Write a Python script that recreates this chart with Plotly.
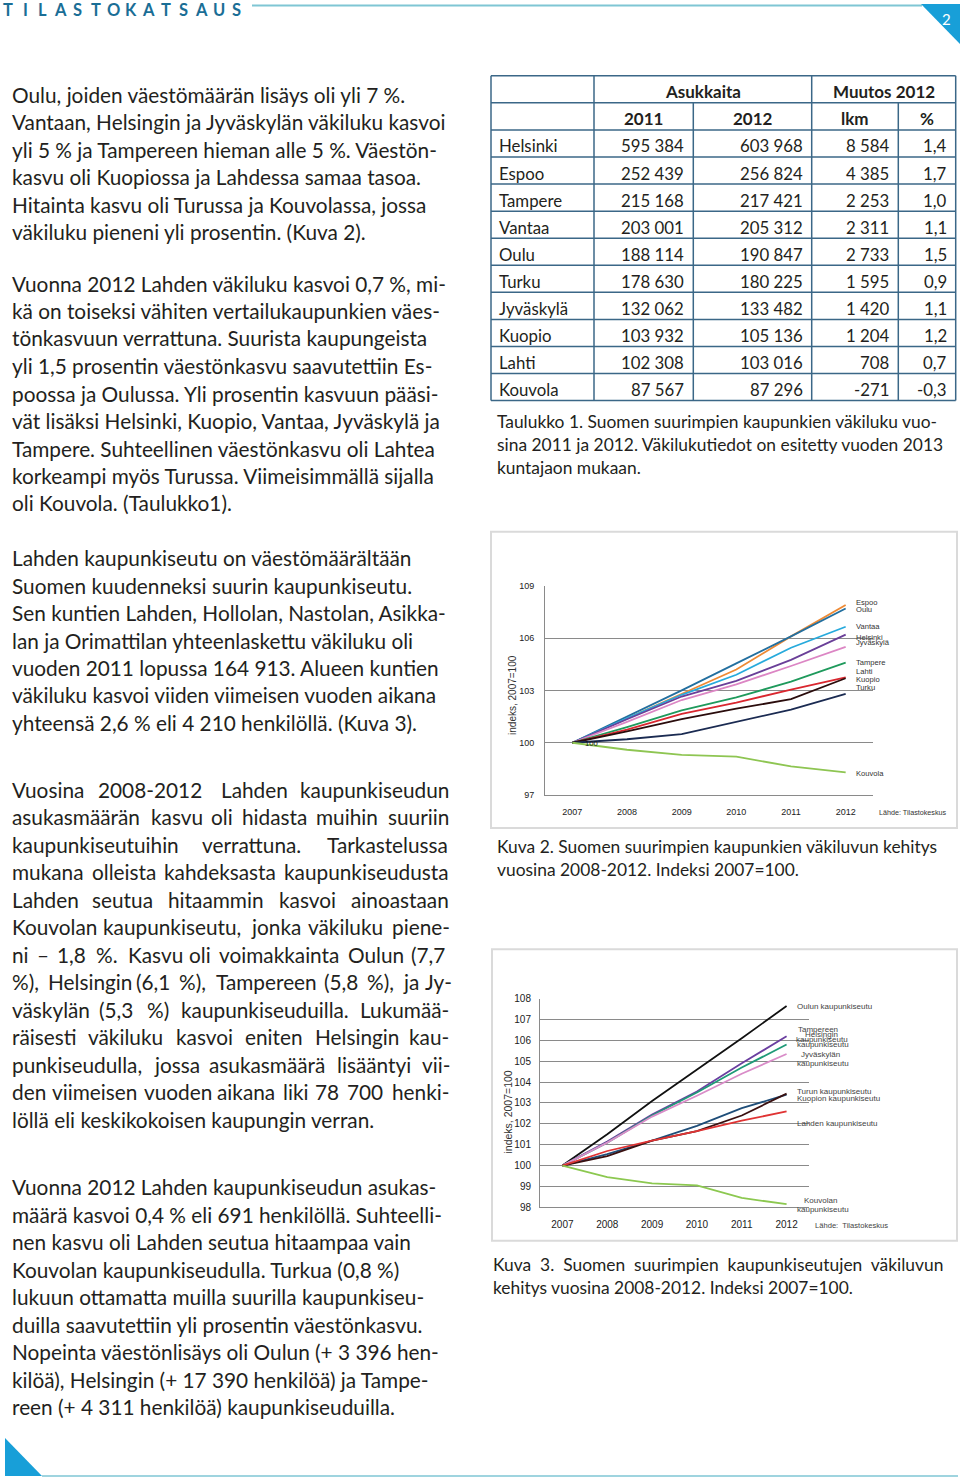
import plotly.graph_objects as go

W, H = 960, 1479

# ---------------- data ----------------
years = ["2007", "2008", "2009", "2010", "2011", "2012"]

# Kuva 2: cities, index 2007=100
city_names = ["Espoo", "Oulu", "Vantaa", "Helsinki", "Jyväskylä", "Tampere", "Lahti", "Kuopio", "Turku", "Kouvola"]
espoo = [100, 101.4, 102.8, 104.2, 106.1, 107.9]
oulu = [100, 101.5, 103.0, 104.55, 106.1, 107.7]
vantaa = [100, 101.4, 102.75, 103.9, 105.45, 106.65]
helsinki = [100, 101.35, 102.65, 103.55, 104.75, 106.2]
jyvaskyla = [100, 101.2, 102.45, 103.35, 104.4, 105.5]
tampere = [100, 100.9, 101.85, 102.6, 103.5, 104.6]
lahti = [100, 100.75, 101.65, 102.3, 103.05, 103.75]
kuopio = [100, 100.65, 101.35, 101.95, 102.5, 103.7]
turku = [100, 100.2, 100.5, 101.2, 101.9, 102.8]
kouvola = [100, 99.6, 99.3, 99.2, 98.65, 98.3]
city_values = [espoo, oulu, vantaa, helsinki, jyvaskyla, tampere, lahti, kuopio, turku, kouvola]
city_ticks = [97, 100, 103, 106, 109]

# Kuva 3: city regions, index 2007=100
region_names = ["Oulun kaupunkiseutu", "Helsingin kaupunkiseutu", "Tampereen kaupunkiseutu",
                "Jyväskylän kaupunkiseutu", "Turun kaupunkiseutu", "Kuopion kaupunkiseutu",
                "Lahden kaupunkiseutu", "Kouvolan kaupunkiseutu"]
oulu_s = [100, 101.5, 103.1, 104.6, 106.1, 107.65]
helsinki_s = [100, 101.15, 102.45, 103.55, 104.9, 106.2]
tampere_s = [100, 101.1, 102.4, 103.5, 104.7, 105.8]
jyvaskyla_s = [100, 101.1, 102.35, 103.35, 104.4, 105.35]
turku_s = [100, 100.55, 101.2, 101.9, 102.75, 103.4]
kuopio_s = [100, 100.45, 101.2, 101.65, 102.4, 103.45]
lahti_s = [100, 100.7, 101.2, 101.65, 102.15, 102.6]
kouvola_s = [100, 99.45, 99.15, 99.05, 98.45, 98.15]
region_values = [oulu_s, helsinki_s, tampere_s, jyvaskyla_s, turku_s, kuopio_s, lahti_s, kouvola_s]
region_ticks = list(range(98, 109))

# Taulukko 1
table_cities = ["Helsinki", "Espoo", "Tampere", "Vantaa", "Oulu", "Turku", "Jyväskylä", "Kuopio", "Lahti", "Kouvola"]
pop_2011 = ["595 384", "252 439", "215 168", "203 001", "188 114", "178 630", "132 062", "103 932", "102 308", "87 567"]
pop_2012 = ["603 968", "256 824", "217 421", "205 312", "190 847", "180 225", "133 482", "105 136", "103 016", "87 296"]
change_n = ["8 584", "4 385", "2 253", "2 311", "2 733", "1 595", "1 420", "1 204", "708", "-271"]
change_pct = ["1,4", "1,7", "1,0", "1,1", "1,5", "0,9", "1,1", "1,2", "0,7", "-0,3"]

# ---------------- styles ----------------
city_colors = ["#ee8a35", "#236f9f", "#27aadc", "#6a3f98", "#dc86c4", "#1f9a5c",
               "#d9272f", "#2a0c0c", "#1b2b52", "#8ec552"]
region_colors = ["#111111", "#6b3fa0", "#1f9a78", "#d98cc8", "#1f4e79", "#3a1010",
                 "#e03434", "#8cc850"]

BODY_FONT = "Lato"
TXT = "#231f20"
GRID = "#8a8a8a"
BLUE = "#189fd8"
LINEBLUE = "#7fc6d4"

# plotly keeps a small top/bottom margin in this page; map page pixels onto it
TOP_OFF = 6.0
PAPER_H = 1467.0


def px(x):
    return x / W


def py(y):
    return 1 - (y - TOP_OFF) / PAPER_H


fig = go.Figure()
for name, vals, col in zip(city_names, city_values, city_colors):
    fig.add_trace(go.Scatter(x=years, y=vals, mode="lines", name=name,
                             line=dict(color=col, width=1.8), xaxis="x", yaxis="y",
                             showlegend=False, hoverinfo="skip"))
for name, vals, col in zip(region_names, region_values, region_colors):
    fig.add_trace(go.Scatter(x=years, y=vals, mode="lines", name=name,
                             line=dict(color=col, width=1.8), xaxis="x2", yaxis="y2",
                             showlegend=False, hoverinfo="skip"))

ann = []
shapes = []


def text(x, y, s, size, anchor="left", color=TXT, family=BODY_FONT, bold=False, angle=0):
    if bold:
        s = "<b>" + s + "</b>"
    ann.append(dict(x=px(x), y=py(y), xref="paper", yref="paper", text=s, showarrow=False,
                    xanchor=anchor, yanchor="middle", textangle=angle,
                    font=dict(family=family, size=size, color=color)))


# approximate advance widths (em), used only to spread the words of justified lines
CW = {' ': 0.226, 'a': 0.479, 'b': 0.525, 'c': 0.423, 'd': 0.525, 'e': 0.498, 'f': 0.305, 'g': 0.471,
      'h': 0.525, 'i': 0.229, 'j': 0.239, 'k': 0.49, 'l': 0.229, 'm': 0.799, 'n': 0.525, 'o': 0.527,
      'p': 0.525, 'q': 0.525, 'r': 0.349, 's': 0.40, 't': 0.335, 'u': 0.525, 'v': 0.452, 'w': 0.715,
      'x': 0.433, 'y': 0.453, 'z': 0.395, 'ä': 0.479, 'ö': 0.527, '%': 0.82, '(': 0.32, ')': 0.32,
      '.': 0.252, ',': 0.25, '-': 0.33, '–': 0.55, 'K': 0.52, 'L': 0.42, 'T': 0.487, 'V': 0.579,
      'H': 0.623, 'J': 0.319, 'O': 0.662, 'S': 0.459}


def est_w(s):
    return sum(CW.get(c, 0.58) for c in s)


REF_LINE = "Oulu, joiden väestömäärän lisäys oli yli 7 %."
EM_PX = 393.0 / est_w(REF_LINE)


def justified(y, s, x0=10, x1=447, size=20.8):
    words = s.split(" ")
    widths = [est_w(w_) * EM_PX for w_ in words]
    gap = max((x1 - x0 - sum(widths)) / (len(words) - 1), 5.0)
    x = x0
    for w_, wd in zip(words, widths):
        text(x, y, w_, size)
        x += wd + gap


# ---------------- header ----------------
letters = "TILASTOKATSAUS"
for i, ch in enumerate(letters):
    text(7.5 + i * 17.6, 11, ch, 16.5, anchor="center", color="#1a6e96", family="Lato", bold=True)
shapes.append(dict(type="line", xref="paper", yref="paper", x0=px(252), x1=px(922), y0=py(6.5), y1=py(6.5),
                   line=dict(color=LINEBLUE, width=2)))
shapes.append(dict(type="path", xref="paper", yref="paper",
                   path=f"M {px(921)} {py(5)} L {px(960)} {py(5)} L {px(960)} {py(45)} Z",
                   fillcolor=BLUE, line=dict(width=0)))
text(946, 20, "2", 15, anchor="center", color="white", family="Lato")

# bottom decoration
shapes.append(dict(type="path", xref="paper", yref="paper",
                   path=f"M {px(5)} {py(1437)} L {px(5)} {py(1475)} L {px(42)} {py(1475)} Z",
                   fillcolor=BLUE, line=dict(width=0)))
shapes.append(dict(type="line", xref="paper", yref="paper", x0=px(42), x1=px(958), y0=py(1475), y1=py(1475),
                   line=dict(color=LINEBLUE, width=1.5)))

# ---------------- left column text ----------------
left_lines = [
    (95, "Oulu, joiden väestömäärän lisäys oli yli 7 %."),
    (122.5, "Vantaan, Helsingin ja Jyväskylän väkiluku kasvoi"),
    (150, "yli 5 % ja Tampereen hieman alle 5 %. Väestön-"),
    (177.5, "kasvu oli Kuopiossa ja Lahdessa samaa tasoa."),
    (205, "Hitainta kasvu oli Turussa ja Kouvolassa, jossa"),
    (232, "väkiluku pieneni yli prosentin. (Kuva 2)."),
    (284, "Vuonna 2012 Lahden väkiluku kasvoi 0,7 %, mi-"),
    (311, "kä on toiseksi vähiten vertailukaupunkien väes-"),
    (338.5, "tönkasvuun verrattuna. Suurista kaupungeista"),
    (366, "yli 1,5 prosentin väestönkasvu saavutettiin Es-"),
    (393.5, "poossa ja Oulussa. Yli prosentin kasvuun pääsi-"),
    (421, "vät lisäksi Helsinki, Kuopio, Vantaa, Jyväskylä ja"),
    (448.5, "Tampere. Suhteellinen väestönkasvu oli Lahtea"),
    (476, "korkeampi myös Turussa. Viimeisimmällä sijalla"),
    (503, "oli Kouvola. (Taulukko1)."),
    (558, "Lahden kaupunkiseutu on väestömäärältään"),
    (585.5, "Suomen kuudenneksi suurin kaupunkiseutu."),
    (613, "Sen kuntien Lahden, Hollolan, Nastolan, Asikka-"),
    (640.5, "lan ja Orimattilan yhteenlaskettu väkiluku oli"),
    (668, "vuoden 2011 lopussa 164 913. Alueen kuntien"),
    (695, "väkiluku kasvoi viiden viimeisen vuoden aikana"),
    (722.5, "yhteensä 2,6 % eli 4 210 henkilöllä. (Kuva 3)."),
]
justified_lines = [
    (789, "Vuosina 2008-2012 Lahden kaupunkiseudun"),
    (816.5, "asukasmäärän kasvu oli hidasta muihin suuriin"),
    (844, "kaupunkiseutuihin verrattuna. Tarkastelussa"),
    (871.5, "mukana olleista kahdeksasta kaupunkiseudusta"),
    (899, "Lahden seutua hitaammin kasvoi ainoastaan"),
    (926.5, "Kouvolan kaupunkiseutu, jonka väkiluku piene-"),
    (954, "ni – 1,8 %. Kasvu oli voimakkainta Oulun (7,7"),
    (981.5, "%), Helsingin (6,1 %), Tampereen (5,8 %), ja Jy-"),
    (1009, "väskylän (5,3 %) kaupunkiseuduilla. Lukumää-"),
    (1036.5, "räisesti väkiluku kasvoi eniten Helsingin kau-"),
    (1064, "punkiseudulla, jossa asukasmäärä lisääntyi vii-"),
    (1091.5, "den viimeisen vuoden aikana liki 78 700 henki-"),
]
last_lines = [
    (1119, "löllä eli keskikokoisen kaupungin verran."),
    (1186, "Vuonna 2012 Lahden kaupunkiseudun asukas-"),
    (1213.5, "määrä kasvoi 0,4 % eli 691 henkilöllä. Suhteelli-"),
    (1241, "nen kasvu oli Lahden seutua hitaampaa vain"),
    (1268.5, "Kouvolan kaupunkiseudulla. Turkua (0,8 %)"),
    (1296, "lukuun ottamatta muilla suurilla kaupunkiseu-"),
    (1323.5, "duilla saavutettiin yli prosentin väestönkasvu."),
    (1351, "Nopeinta väestönlisäys oli Oulun (+ 3 396 hen-"),
    (1378.5, "kilöä), Helsingin (+ 17 390 henkilöä) ja Tampe-"),
    (1406, "reen (+ 4 311 henkilöä) kaupunkiseuduilla."),
]
for y, s in left_lines + last_lines:
    text(10, y, s, 20.8)
for y, s in justified_lines:
    justified(y, s)

# ---------------- captions ----------------
captions = [
    (495, 422, "Taulukko 1. Suomen suurimpien kaupunkien väkiluku vuo-"),
    (495, 445, "sina 2011 ja 2012. Väkilukutiedot on esitetty vuoden 2013"),
    (495, 468, "kuntajaon mukaan."),
    (495, 846, "Kuva 2. Suomen suurimpien kaupunkien väkiluvun kehitys"),
    (495, 869, "vuosina 2008-2012. Indeksi 2007=100."),
    (491, 1264, "Kuva  3.  Suomen  suurimpien  kaupunkiseutujen  väkiluvun"),
    (491, 1287, "kehitys vuosina 2008-2012. Indeksi 2007=100."),
]
for x, y, s in captions:
    text(x, y, s, 17.4)

# ---------------- table ----------------
col_x = [491, 594, 693.3, 811.7, 898.3, 955.7]
row_top = 76.7
row_h = 27.03
n_rows = 2 + len(table_cities)
TB = "#3b6787"
for i in range(n_rows + 1):
    yy = row_top + i * row_h
    shapes.append(dict(type="line", xref="paper", yref="paper", x0=px(col_x[0]), x1=px(col_x[-1]),
                       y0=py(yy), y1=py(yy), line=dict(color=TB, width=1.5)))
for j, cx in enumerate(col_x):
    y_start = row_top if j in (0, 1, 3, 5) else row_top + row_h
    shapes.append(dict(type="line", xref="paper", yref="paper", x0=px(cx), x1=px(cx),
                       y0=py(y_start), y1=py(row_top + n_rows * row_h), line=dict(color=TB, width=1.5)))


def rc(i):
    return row_top + (i + 0.5) * row_h + 2.5


text((col_x[1] + col_x[3]) / 2, rc(0), "Asukkaita", 17, anchor="center", bold=True)
text((col_x[3] + col_x[5]) / 2, rc(0), "Muutos 2012", 17, anchor="center", bold=True)
for j, h in enumerate(["2011", "2012", "lkm", "%"]):
    text((col_x[j + 1] + col_x[j + 2]) / 2, rc(1), h, 17, anchor="center", bold=True)
for i, (c, a, b, n, p) in enumerate(zip(table_cities, pop_2011, pop_2012, change_n, change_pct)):
    yy = rc(i + 2)
    text(col_x[0] + 6, yy, c, 16.8)
    for j, v in enumerate([a, b, n, p]):
        text(col_x[j + 2] - 7, yy, v, 16.8, anchor="right")

# ---------------- chart panels ----------------
PANEL = "#dadada"
shapes.append(dict(type="rect", xref="paper", yref="paper", x0=px(491), x1=px(957), y0=py(532), y1=py(828),
                   line=dict(color=PANEL, width=2), layer="below"))
shapes.append(dict(type="rect", xref="paper", yref="paper", x0=px(492), x1=px(957), y0=py(949), y1=py(1240),
                   line=dict(color=PANEL, width=2), layer="below"))

ARIAL = "Liberation Sans"
for name, y in zip(city_names, [603, 610, 627, 637.5, 643, 663, 671.5, 680, 687.5, 773]):
    text(854, y, name, 7.6, color="#333333", family=ARIAL)
text(583, 743, "100", 7.6, color="#111111", family=ARIAL)
text(877, 812, "Lähde: Tilastokeskus", 7.2, color="#333333", family=ARIAL)
text(513, 695, "indeks, 2007=100", 10, anchor="center", color="#333333", family=ARIAL, angle=-90)

reg_labels = [
    (795, 1006, "Oulun kaupunkiseutu", "left"),
    (818, 1029, "Tampereen", "center"),
    (821, 1034.5, "Helsingin", "center"),
    (794, 1039, "kaupunkiseutu", "left"),
    (795, 1044.5, "kaupunkiseutu", "left"),
    (820, 1054, "Jyväskylän", "center"),
    (795, 1063.5, "kaupunkiseutu", "left"),
    (795, 1091, "Turun kaupunkiseutu", "left"),
    (795, 1098.5, "Kuopion kaupunkiseutu", "left"),
    (795, 1123, "Lahden kaupunkiseutu", "left"),
    (820, 1199.5, "Kouvolan", "center"),
    (795, 1208.5, "kaupunkiseutu", "left"),
]
for x, y, s, a in reg_labels:
    text(x, y, s, 8, anchor=a, color="#444444", family=ARIAL)
text(813, 1225, "Lähde:  Tilastokeskus", 7.6, color="#444444", family=ARIAL)
text(508, 1112, "indeks, 2007=100", 10.5, anchor="center", color="#333333", family=ARIAL, angle=-90)

axis_font = dict(family=ARIAL, size=9, color="#222222")
axis_font2 = dict(family=ARIAL, size=10, color="#222222")

fig.update_layout(
    width=W, height=H, autosize=False,
    margin=dict(l=0, r=0, t=0, b=0),
    paper_bgcolor="white", plot_bgcolor="white",
    showlegend=False,
    annotations=ann, shapes=shapes,
    xaxis=dict(domain=[px(545), px(873)], range=[-0.5, 5.5], type="category",
               showgrid=False, zeroline=False, showline=True, linecolor=GRID, linewidth=1,
               ticks="", tickfont=axis_font, ticklabelstandoff=8, fixedrange=True, anchor="y"),
    yaxis=dict(domain=[py(795), py(586)], range=[97, 109], tickvals=city_ticks,
               showgrid=True, gridcolor=GRID, gridwidth=1, zeroline=False,
               showline=True, linecolor=GRID, linewidth=1, ticks="",
               tickfont=axis_font, ticklabelstandoff=8, fixedrange=True, anchor="x"),
    xaxis2=dict(domain=[px(540), px(809)], range=[-0.5, 5.5], type="category",
                showgrid=False, zeroline=False, showline=True, linecolor=GRID, linewidth=1,
                ticks="", tickfont=axis_font2, ticklabelstandoff=8, fixedrange=True, anchor="y2"),
    yaxis2=dict(domain=[py(1206.7), py(998.3)], range=[98, 108], tickvals=region_ticks,
                showgrid=True, gridcolor=GRID, gridwidth=1, zeroline=False,
                showline=True, linecolor=GRID, linewidth=1, ticks="",
                tickfont=axis_font2, ticklabelstandoff=6, fixedrange=True, anchor="x2"),
)

POST = "document.body.style.margin='0';document.body.style.overflow='hidden';"
fig.write_html("out.html", config={"displayModeBar": False}, post_script=POST)
